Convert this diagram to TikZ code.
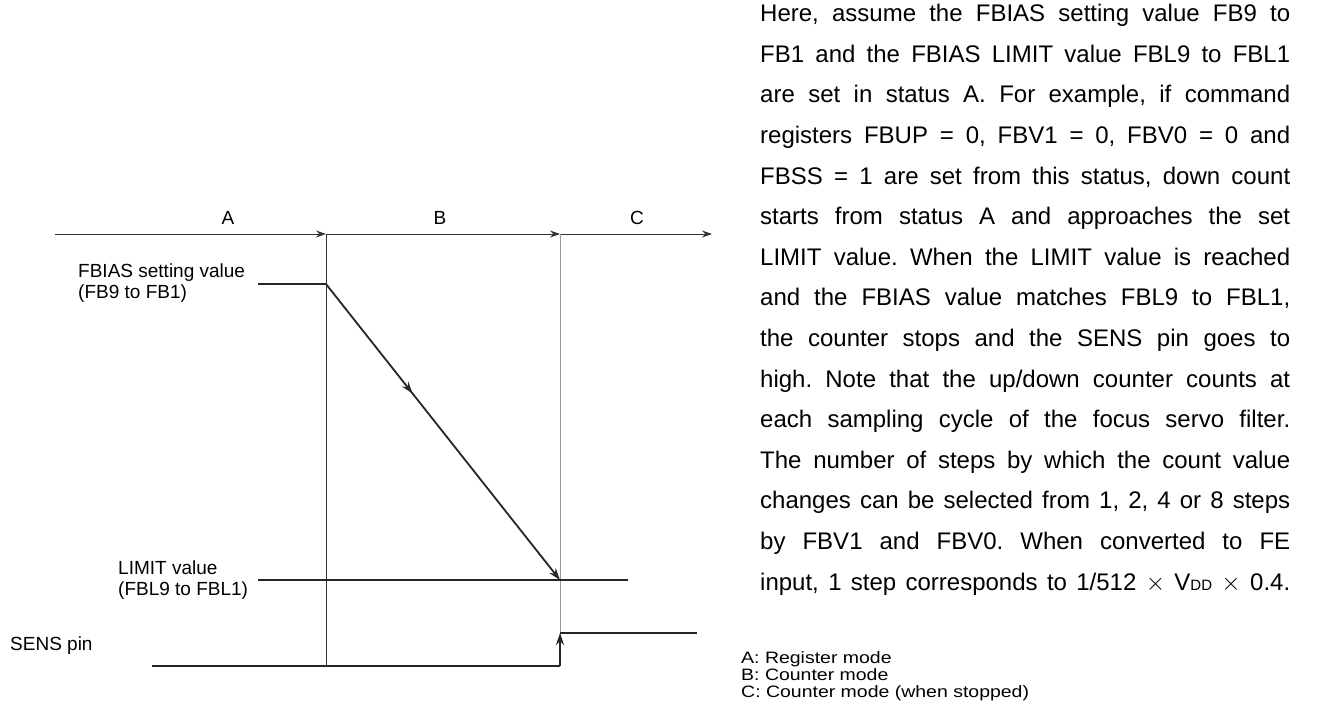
\documentclass[tikz,border=0pt]{standalone}
\usepackage{fontspec}
\usepackage{graphicx}
\setmainfont{Liberation Sans}
\usetikzlibrary{arrows.meta,decorations.markings}
\newcommand{\pline}[1]{\makebox[530pt][s]{#1}\\}
\frenchspacing
\begin{document}
\begin{tikzpicture}[x=1pt,y=-1pt,
  thinln/.style={line width=0.8pt,black!80},
  grayln/.style={line width=0.8pt,black!40},
  thickln/.style={line width=1.8pt,black!85},
  tip/.style={-{Stealth[length=10pt,width=7pt]}},
  bigtip/.style={-{Stealth[length=12pt,width=8pt]}},
  lbl/.style={font=\fontsize{19}{21}\selectfont,inner sep=0pt,align=left},
  leg/.style={font=\fontsize{16.5}{17}\selectfont,inner sep=0pt}]
\useasboundingbox (0,0) rectangle (1329,713);
% coordinates
\coordinate (ax0) at (55,234);
\coordinate (axA) at (326,234);
\coordinate (axB) at (560,234);
\coordinate (axC) at (712,234);
\coordinate (fb0) at (258,284);
\coordinate (fb1) at (326,284);
\coordinate (lm0) at (258,580);
\coordinate (lm1) at (560,580);
\coordinate (lm2) at (628,580);
\coordinate (s0) at (152,666);
\coordinate (sA) at (326,666);
\coordinate (s1) at (560,666);
\coordinate (s2) at (560,633);
\coordinate (s3) at (697,633);
% axis
\draw[thinln,tip] (ax0) -- (axA);
\draw[thinln,tip] (axA) -- (axB);
\draw[thinln,tip] (axB) -- (axC);
\node[lbl] (lA) at (228,218) {A};
\node[lbl] (lB) at (440,218) {B};
\node[lbl] (lC) at (637,218) {C};
% verticals
\draw[thinln] (axA) -- (sA);
\draw[grayln] (axB) -- (s1);
% FBIAS
\draw[thickln] (fb0) -- (fb1);
\draw[thickln,postaction={decorate},decoration={markings,mark=at position 0.37 with {\arrow{Stealth[length=12pt,width=8pt]}}},bigtip] (fb1) -- (lm1);
\draw[thickln] (lm0) -- (lm2);
% SENS
\draw[thickln] (s0) -- (s1);
\draw[thickln,bigtip] (s1) -- (s2);
\draw[thickln] (s2) -- (s3);
% labels
\node[lbl,anchor=west] (lfb) at (78,283) {FBIAS setting value\\(FB9 to FB1)};
\node[lbl,anchor=west] (llm) at (118,580) {LIMIT value\\(FBL9 to FBL1)};
\node[lbl,anchor=west] (lsens) at (10,646) {SENS pin};
% paragraph
\node[anchor=north west,inner sep=0pt,align=left,
  font=\fontsize{24}{40.6}\selectfont] (par) at (760,4)
{\pline{Here, assume the FBIAS setting value FB9 to}
\pline{FB1 and the FBIAS LIMIT value FBL9 to FBL1}
\pline{are set in status A. For example, if command}
\pline{registers FBUP = 0, FBV1 = 0, FBV0 = 0 and}
\pline{FBSS = 1 are set from this status, down count}
\pline{starts from status A and approaches the set}
\pline{LIMIT value. When the LIMIT value is reached}
\pline{and the FBIAS value matches FBL9 to FBL1,}
\pline{the counter stops and the SENS pin goes to}
\pline{high. Note that the up/down counter counts at}
\pline{each sampling cycle of the focus servo filter.}
\pline{The number of steps by which the count value}
\pline{changes can be selected from 1, 2, 4 or 8 steps}
\pline{by FBV1 and FBV0. When converted to FE}
\makebox[530pt][s]{input, 1 step corresponds to 1/512 $\times$ V{\fontsize{15}{15}\selectfont DD} $\times$ 0.4.}};
% legend
\node[leg,anchor=north west] (leg) at (741,651) {\scalebox{1.18}[1]{\vbox{\hbox{A: Register mode}\hbox{B: Counter mode}\hbox{C: Counter mode (when stopped)}}}};
\end{tikzpicture}
\end{document}
